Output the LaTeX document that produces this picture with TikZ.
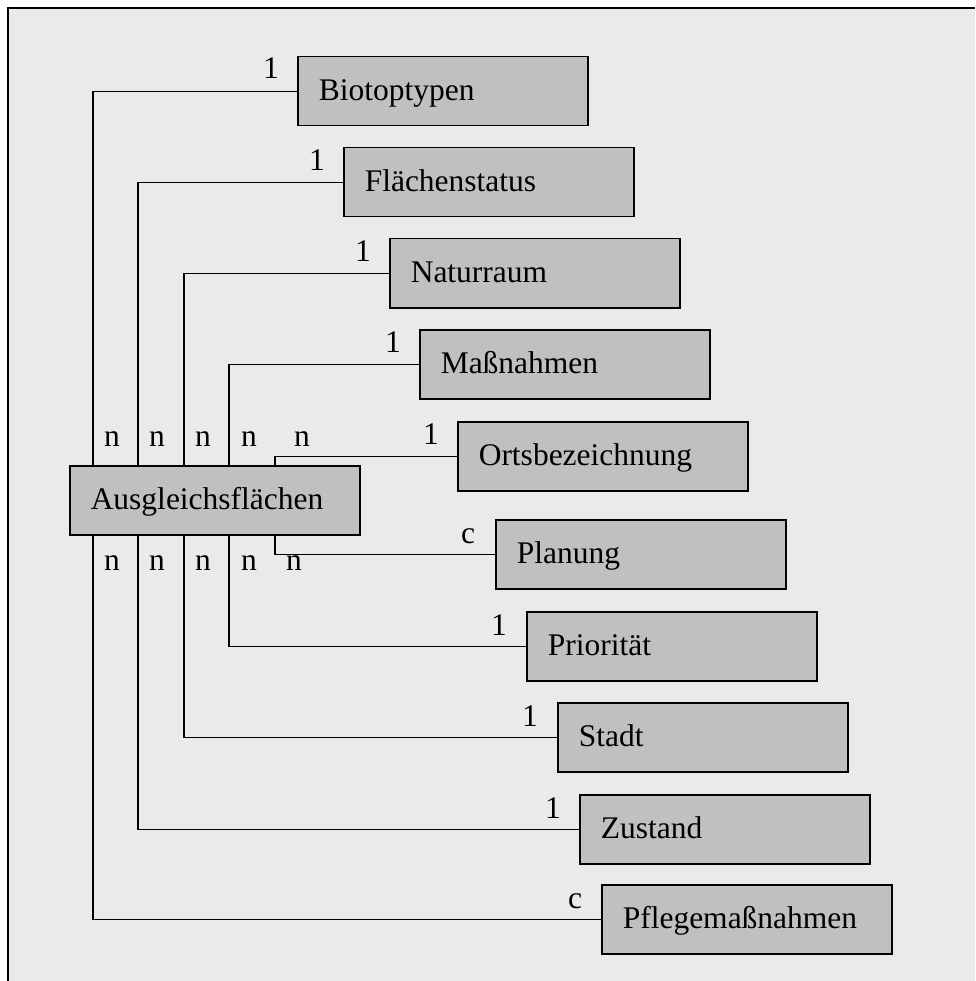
\documentclass[tikz,border=0pt]{standalone}
\usepackage{fontspec}
\setmainfont{Liberation Serif}
\usepackage{tikz}
\usetikzlibrary{positioning}
\usetikzlibrary{calc}
\definecolor{bggray}{HTML}{EAEAEA}
\definecolor{boxgray}{HTML}{C0C0C0}

\begin{document}
\begin{tikzpicture}[x=1pt, y=-1pt,
  entity/.style={draw=black, line width=1.5pt, fill=boxgray, anchor=north west,
    minimum width=290pt, minimum height=69pt, text width=248pt, inner xsep=21pt,
    inner ysep=0pt, align=left, text height=23pt, text depth=5pt,
    font=\fontsize{31.5}{36}\selectfont},
  card/.style={anchor=base, inner sep=0pt, font=\fontsize{31.5}{36}\selectfont},
  link/.style={black, line width=1.3pt}]
\useasboundingbox (0,0) rectangle (975,981);
\fill[bggray](8,8)rectangle(975,981);
\draw[line width=2pt](8,981)--(8,8)--(975,8);

% Tabellen
\node[entity] (ausgl) at (69,465) {Ausgleichsflächen};
\node[entity] (biotop) at (297,56) {Biotoptypen};
\node[entity] (flaeche) at (343,147) {Flächenstatus};
\node[entity] (natur) at (389,238) {Naturraum};
\node[entity] (massn) at (419,329) {Maßnahmen};
\node[entity] (orts) at (457,421) {Ortsbezeichnung};
\node[entity] (planung) at (495,519) {Planung};
\node[entity] (prio) at (526,611) {Priorität};
\node[entity] (stadt) at (557,702) {Stadt};
\node[entity] (zustand) at (579,794) {Zustand};
\node[entity] (pflege) at (601,884) {Pflegemaßnahmen};

% Beziehungen
\draw[link]([xshift=24pt]ausgl.north west)|-(biotop.west);
\draw[link]([xshift=69pt]ausgl.north west)|-(flaeche.west);
\draw[link]([xshift=115pt]ausgl.north west)|-(natur.west);
\draw[link]([xshift=160pt]ausgl.north west)|-(massn.west);
\draw[link]([xshift=206pt]ausgl.north west)|-(orts.west);
\draw[link]([xshift=206pt]ausgl.south west)|-(planung.west);
\draw[link]([xshift=160pt]ausgl.south west)|-(prio.west);
\draw[link]([xshift=115pt]ausgl.south west)|-(stadt.west);
\draw[link]([xshift=69pt]ausgl.south west)|-(zustand.west);
\draw[link]([xshift=24pt]ausgl.south west)|-(pflege.west);

% Kardinalitaeten
\node[card] (k1) at ([xshift=-26pt,yshift=13pt]biotop.west) {1};
\node[card] (k2) at ([xshift=-26pt,yshift=12pt]flaeche.west) {1};
\node[card] (k3) at ([xshift=-26pt,yshift=12pt]natur.west) {1};
\node[card] (k4) at ([xshift=-26pt,yshift=12pt]massn.west) {1};
\node[card] (k5) at ([xshift=-26pt,yshift=12pt]orts.west) {1};
\node[card] (k6) at ([xshift=-27pt,yshift=11pt]planung.west) {c};
\node[card] (k7) at ([xshift=-27pt,yshift=11pt]prio.west) {1};
\node[card] (k8) at ([xshift=-27pt,yshift=11pt]stadt.west) {1};
\node[card] (k9) at ([xshift=-26pt,yshift=11pt]zustand.west) {1};
\node[card] (k10) at ([xshift=-26pt,yshift=11pt]pflege.west) {c};

\node[card] (n1) at ([xshift=43pt,yshift=19pt]ausgl.north west) {n};
\node[card] (n2) at ([xshift=88pt,yshift=19pt]ausgl.north west) {n};
\node[card] (n3) at ([xshift=134pt,yshift=19pt]ausgl.north west) {n};
\node[card] (n4) at ([xshift=180pt,yshift=19pt]ausgl.north west) {n};
\node[card] (n5) at ([xshift=233pt,yshift=19pt]ausgl.north west) {n};
\node[card] (n6) at ([xshift=43pt,yshift=-35pt]ausgl.south west) {n};
\node[card] (n7) at ([xshift=88pt,yshift=-35pt]ausgl.south west) {n};
\node[card] (n8) at ([xshift=134pt,yshift=-35pt]ausgl.south west) {n};
\node[card] (n9) at ([xshift=180pt,yshift=-35pt]ausgl.south west) {n};
\node[card] (n10) at ([xshift=225pt,yshift=-35pt]ausgl.south west) {n};
\end{tikzpicture}
\end{document}
